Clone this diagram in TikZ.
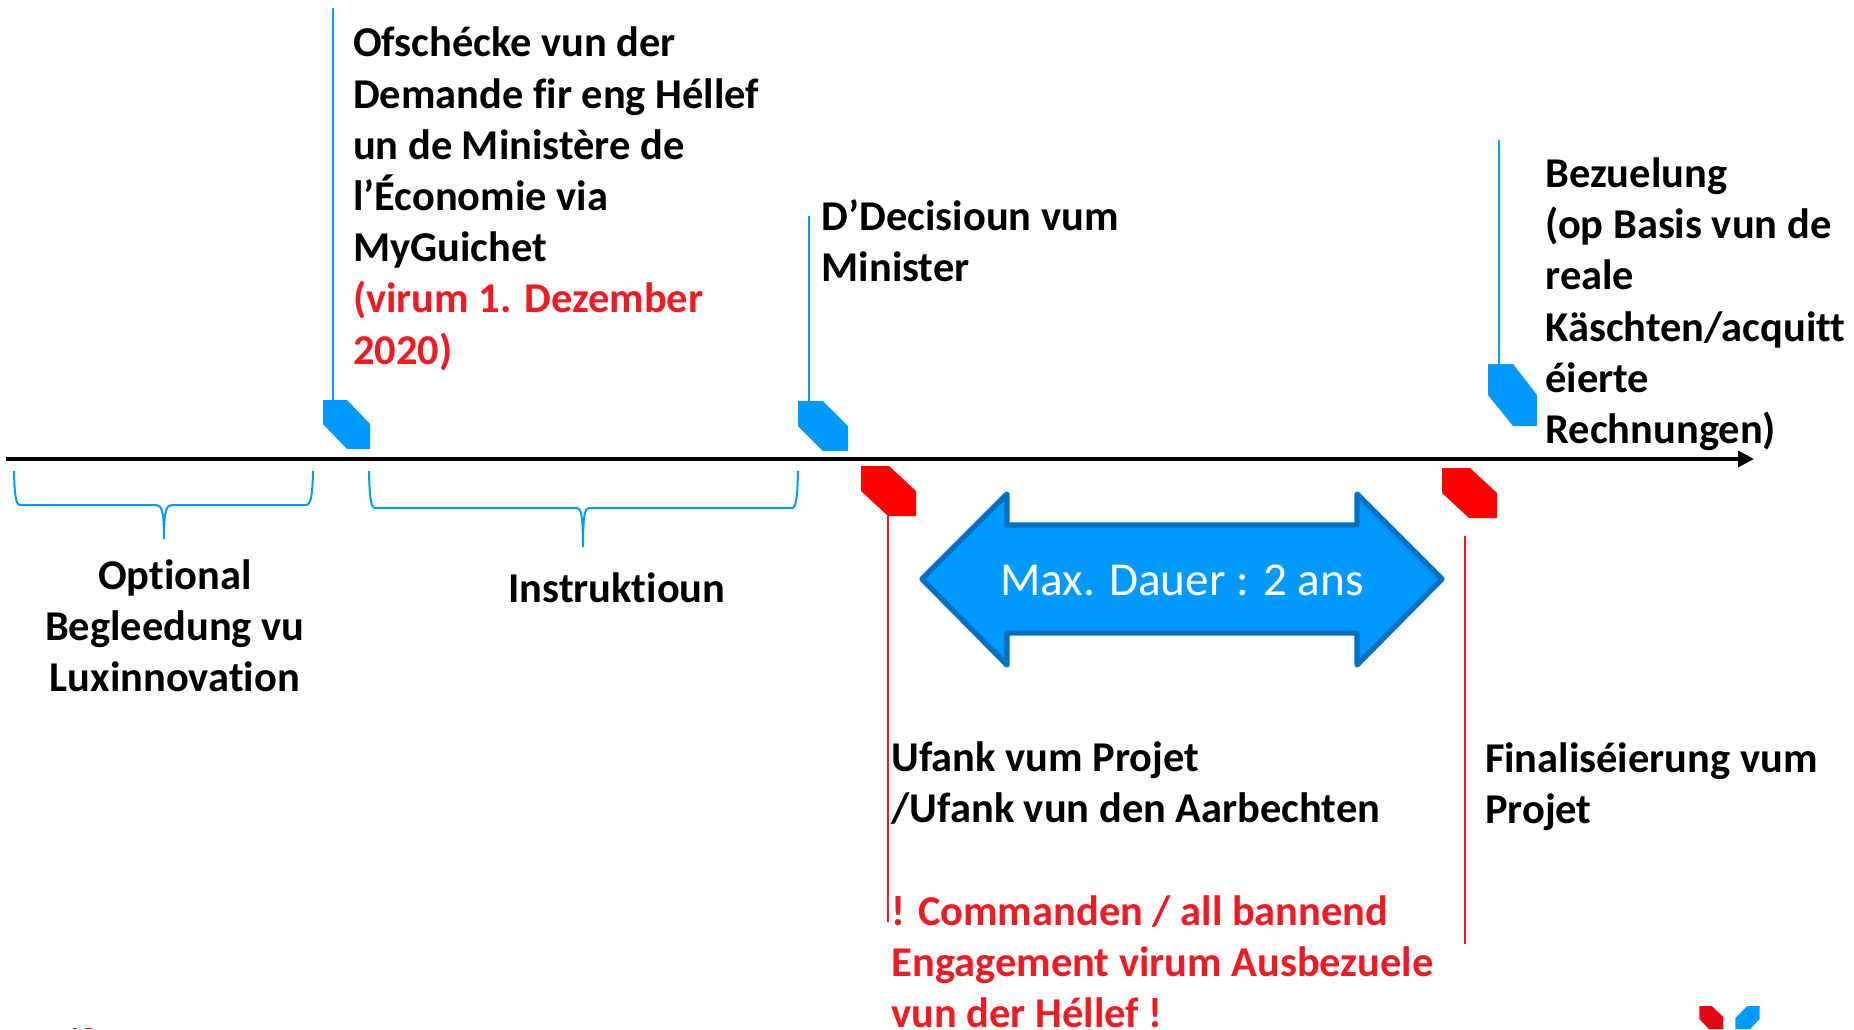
\documentclass[tikz,border=0pt]{standalone}
\usepackage{fontspec}
\setmainfont{Carlito}[Ligatures=NoCommon]
\usetikzlibrary{arrows.meta}
\definecolor{mblue}{HTML}{0099FF}
\definecolor{mdark}{HTML}{0070C0}
\definecolor{mred}{HTML}{ED1C24}
\definecolor{tred}{HTML}{FF0000}
\definecolor{lred}{HTML}{E30613}
\tikzset{
  tb/.style={inner sep=0pt,outer sep=0pt,align=left,anchor=north west,text=black,font=\fontsize{31.85}{38.4}\selectfont\bfseries},
  tc/.style={tb,align=center,anchor=north},
  axisline/.style={line width=2.5pt,-{Triangle[length=12pt,width=12pt]}},
  bluestem/.style={draw=mblue,line width=2.2pt},
  redstem/.style={draw=mred,line width=1.9pt},
  bracket/.style={draw=mblue,line width=1.5pt},
  bluemark/.style={fill=mblue},
  redmark/.style={fill=tred},
  bigarrow/.style={fill=mblue,draw=mdark,line width=4pt,line join=round},
}
\newcommand{\mtxt}[1]{\strut #1}
\begin{document}
\begin{tikzpicture}[x=0.75pt,y=-0.75pt]
\useasboundingbox (0,0) rectangle (1854,1029);
% axis
\coordinate (axL) at (6,459);
\coordinate (axR) at (1754,459);
\draw[axisline] (axL) -- (axR);
% blue markers
\fill[bluemark] (323,400) coordinate (m1) -- (347,400) -- (370,424) -- (370,449) -- (347,449) -- (323,424) -- cycle;
\coordinate (s1a) at (333,8); \coordinate (s1b) at (333,400);
\draw[bluestem] (s1a) -- (s1b);
\fill[bluemark] (798,401) -- (823,401) -- (848,426) -- (848,451) -- (823,451) -- (798,426) -- cycle;
\coordinate (s2a) at (809,216); \coordinate (s2b) at (809,401);
\draw[bluestem] (s2a) -- (s2b);
\fill[bluemark] (1488,364) -- (1513,364) -- (1537,395) -- (1537,426) -- (1513,426) -- (1488,395) -- cycle;
\coordinate (s3a) at (1499,140); \coordinate (s3b) at (1499,364);
\draw[bluestem] (s3a) -- (s3b);
% red markers
\fill[redmark] (861,466) -- (889,466) -- (916,491) -- (916,516) -- (888,516) -- (861,491) -- cycle;
\coordinate (r1a) at (888,516); \coordinate (r1b) at (888,922);
\draw[redstem] (r1a) -- (r1b);
\fill[redmark] (1442,468) -- (1470,468) -- (1497,493) -- (1497,518) -- (1469,518) -- (1442,493) -- cycle;
\coordinate (r2a) at (1465,536); \coordinate (r2b) at (1465,944);
\draw[redstem] (r2a) -- (r2b);
% braces
\draw[bracket] (14,471) .. controls (14.5,495) and (16,505) .. (20,505) -- (156,505)
  .. controls (162,505) and (164,512) .. (164,539) .. controls (164,512) and (166,505) .. (172,505)
  -- (306,505) .. controls (311,505) and (312.5,495) .. (313,471);
\draw[bracket] (369,471) .. controls (369.5,497) and (371,508) .. (375,508) -- (577,508)
  .. controls (581,508) and (583,515) .. (583,547) .. controls (583,515) and (585,508) .. (589,508)
  -- (792,508) .. controls (796,508) and (797.5,497) .. (798,471);
% double arrow
\draw[bigarrow] (922,579) -- (1007,494) -- (1007,525) -- (1357,525) -- (1357,494) -- (1442,579)
  -- (1357,665) -- (1357,633) -- (1007,633) -- (1007,665) -- cycle;
\node[inner sep=0pt,text=white,font=\fontsize{35.4}{42}\selectfont] (dauer) at (1182,580) {Max. Dauer : 2 ans};
% logo pieces
\fill[lred] (1699.3,1006) -- (1711.7,1006) -- (1723.3,1017) -- (1723.3,1029) -- (1709,1029) -- (1699.3,1019) -- cycle;
\fill[mblue] (1759.7,1006) -- (1747.3,1006) -- (1735.3,1018) -- (1735.3,1029) -- (1750,1029) -- (1759.7,1019) -- cycle;
\fill[mred] (73,1028) rectangle (77,1029);
\fill[mred] (85,1028) rectangle (92,1029);
% texts
\node[tb] (t1) at (353,21) {\mtxt{Ofschécke vun der}\\Demande fir eng Héllef\\un de Ministère de\\l’Économie via\\MyGuichet\\\textcolor{mred}{(virum 1. Dezember}\\\textcolor{mred}{2020)}};
\node[tb] (t2) at (821.7,194.4) {\mtxt{D’Decisioun vum}\\Minister};
\node[tb] (t3) at (1545.4,151.6) {\mtxt{Bezuelung}\\(op Basis vun de\\reale\\Käschten/acquitt\\éierte\\Rechnungen)};
\node[tc] (t4) at (174.8,553.4) {\mtxt{Optional}\\Begleedung vu\\Luxinnovation};
\node[tc] (t5) at (617,566.2) {\mtxt{Instruktioun}};
\node[tb] (t6) at (891.5,735.4) {\mtxt{Ufank vum Projet}\\/Ufank vun den Aarbechten\\[38.6pt]\textcolor{mred}{! Commanden / all bannend}\\\textcolor{mred}{Engagement virum Ausbezuele}\\\textcolor{mred}{vun der Héllef !}};
\node[tb] (t7) at (1485,736.4) {\mtxt{Finaliséierung vum}\\Projet};
\end{tikzpicture}
\end{document}
